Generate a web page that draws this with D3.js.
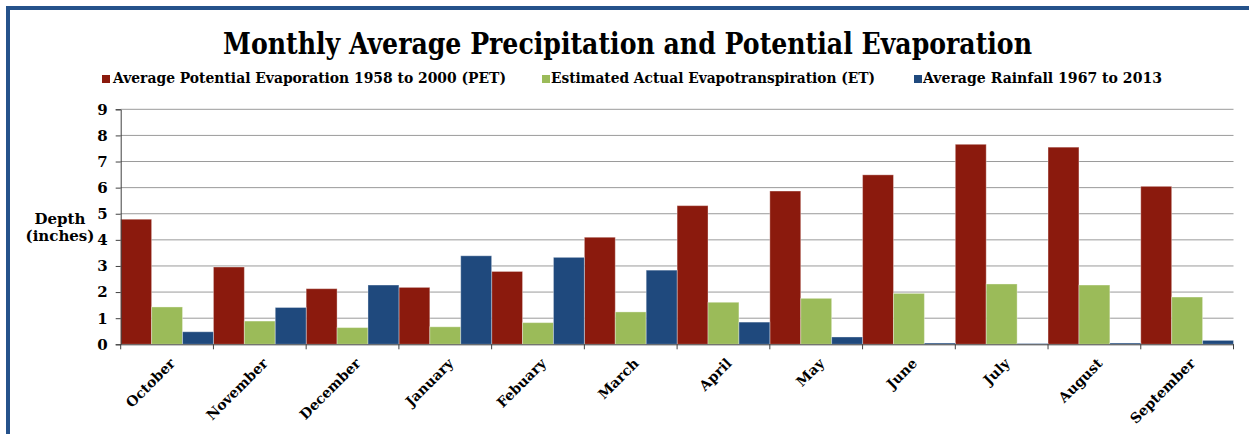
<!DOCTYPE html>
<html>
<head>
<meta charset="utf-8">
<script src="https://cdn.jsdelivr.net/npm/d3@7"></script>
<style>
  html, body { margin: 0; padding: 0; background: #ffffff; }
  svg { display: block; }
  text { font-family: "DejaVu Serif", "Liberation Serif", serif; font-weight: bold; fill: #000; }
</style>
</head>
<body>
<svg id="chart" width="1249" height="434"></svg>
<script>
// Monthly depths in inches, water year order
const months = ["October", "November", "December", "January", "Febuary", "March",
                "April", "May", "June", "July", "August", "September"];
const pet      = [4.79, 2.96, 2.13, 2.18, 2.79, 4.10, 5.31, 5.87, 6.49, 7.66, 7.55, 6.05];
const et       = [1.43, 0.89, 0.64, 0.67, 0.83, 1.24, 1.61, 1.76, 1.95, 2.31, 2.27, 1.81];
const rainfall = [0.48, 1.41, 2.27, 3.39, 3.33, 2.84, 0.85, 0.28, 0.05, 0.03, 0.05, 0.15];

const seriesNames = ["Average Potential Evaporation 1958 to 2000 (PET)",
                     "Estimated Actual Evapotranspiration (ET)",
                     "Average Rainfall 1967 to 2013"];
const seriesColors = ["#8b1a0d", "#9bbb59", "#1f497d"];
const yTicks = [0, 1, 2, 3, 4, 5, 6, 7, 8, 9];

const series = [pet, et, rainfall];

const svg = d3.select("#chart");

// Frame around the chart
svg.append("rect").attr("x", 8).attr("y", 8).attr("width", 1260).attr("height", 460)
  .attr("fill", "none").attr("stroke", "#25528b").attr("stroke-width", 4);

const plot = { left: 120.7, right: 1233.5, top: 109.3, bottom: 344.3 };

const x = d3.scaleBand().domain(months).range([plot.left, plot.right]).padding(0);
const xInner = d3.scaleBand().domain(d3.range(series.length)).range([0, x.bandwidth()]).padding(0);
const y = d3.scaleLinear().domain([0, 9]).range([plot.bottom, plot.top]);

// Horizontal gridlines
svg.append("g").selectAll("line").data(yTicks.filter(d => d > 0)).join("line")
  .attr("x1", plot.left).attr("x2", plot.right)
  .attr("y1", d => y(d)).attr("y2", d => y(d))
  .attr("stroke", "#9a9a9a").attr("stroke-width", 1);

// Bars
const groups = svg.append("g").selectAll("g").data(series).join("g")
  .attr("fill", (d, i) => seriesColors[i]);
groups.each(function(vals, si) {
  d3.select(this).selectAll("rect").data(vals).join("rect")
    .attr("x", (v, mi) => x(months[mi]) + xInner(si))
    .attr("width", xInner.bandwidth())
    .attr("y", v => y(v))
    .attr("height", v => y(0) - y(v))
    .attr("stroke", "rgba(255,255,255,0.35)").attr("stroke-width", 1);
});

// Y axis
const yAxis = d3.axisLeft(y).tickValues(yTicks).tickSize(5).tickPadding(8).tickFormat(d3.format("d"));
const gy = svg.append("g").attr("transform", `translate(${plot.left},0)`).call(yAxis);
gy.attr("font-family", null).attr("font-size", null);
gy.select(".domain").attr("stroke", "#404040");
gy.selectAll(".tick line").attr("stroke", "#404040");
gy.selectAll(".tick text").style("font-size", "15px").attr("fill", "#000");

// X axis
const xAxis = d3.axisBottom(x).tickSize(0).tickFormat("");
const gx = svg.append("g").attr("transform", `translate(0,${plot.bottom})`).call(xAxis);
gx.select(".domain").attr("stroke", "#404040");
const boundaries = months.map(m => x(m)).concat([plot.right]);
gx.selectAll("line.sep").data(boundaries).join("line").attr("class", "sep")
  .attr("x1", d => d).attr("x2", d => d).attr("y1", 0).attr("y2", 5)
  .attr("stroke", "#404040");

// Rotated month labels
svg.append("g").selectAll("text").data(months).join("text")
  .attr("transform", d => `translate(${x(d) + x.bandwidth() / 2 + 9},${plot.bottom + 20}) rotate(-45)`)
  .attr("text-anchor", "end")
  .style("font-size", "14px")
  .text(d => d);

// Y axis title
svg.append("text").attr("x", 60).attr("y", 224).attr("text-anchor", "middle")
  .style("font-size", "15px").text("Depth");
svg.append("text").attr("x", 60).attr("y", 241).attr("text-anchor", "middle")
  .style("font-size", "15px").text("(inches)");

// Title
svg.append("text").attr("x", 627.5).attr("y", 54).attr("text-anchor", "middle")
  .style("font-size", "29px")
  .attr("textLength", 809).attr("lengthAdjust", "spacingAndGlyphs")
  .text("Monthly Average Precipitation and Potential Evaporation");

// Legend
const legendItems = [
  { sx: 102, tx: 113, tw: 393 },
  { sx: 542, tx: 551, tw: 324 },
  { sx: 914, tx: 923, tw: 239 }
];
const lg = svg.append("g").selectAll("g").data(legendItems).join("g");
lg.append("rect").attr("x", d => d.sx).attr("y", 75).attr("width", 8).attr("height", 8)
  .attr("fill", (d, i) => seriesColors[i]);
lg.append("text").attr("x", d => d.tx).attr("y", 83)
  .style("font-size", "15px")
  .attr("textLength", d => d.tw).attr("lengthAdjust", "spacingAndGlyphs")
  .text((d, i) => seriesNames[i]);
</script>
</body>
</html>
